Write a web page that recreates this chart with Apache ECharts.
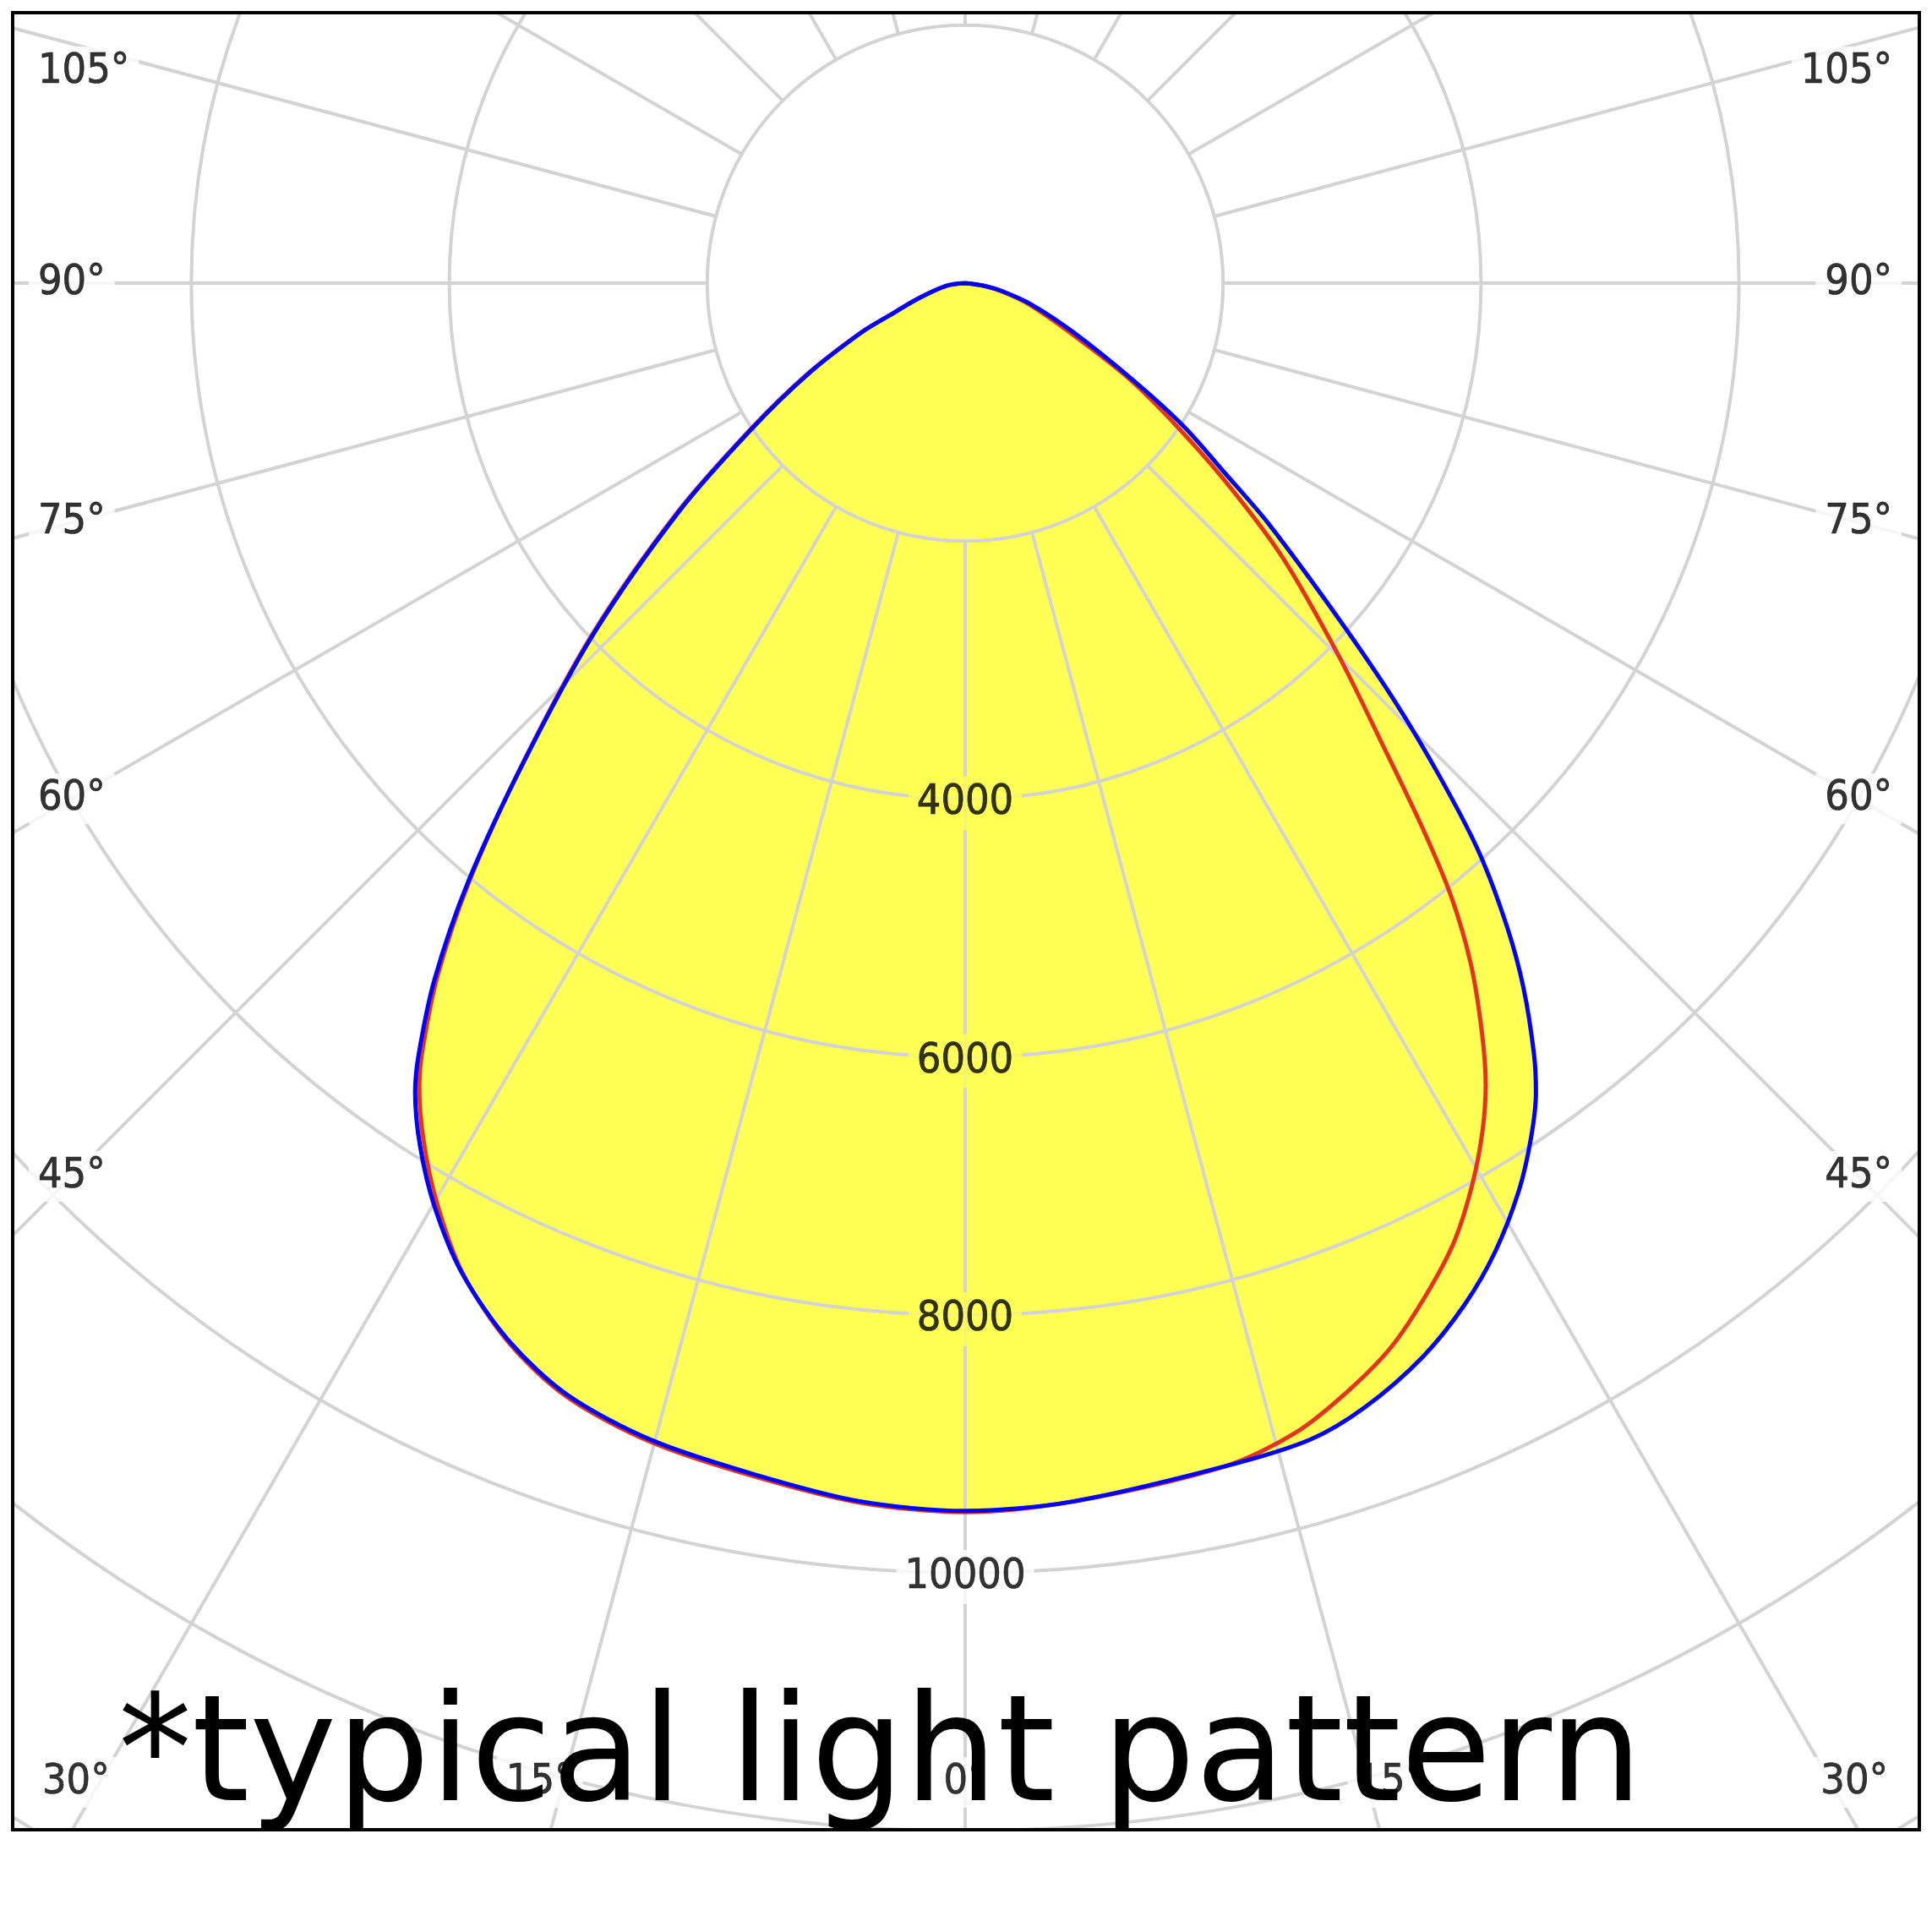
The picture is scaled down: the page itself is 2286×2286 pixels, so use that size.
<!DOCTYPE html>
<html><head><meta charset="utf-8">
<script src="https://cdn.jsdelivr.net/npm/echarts@6/dist/echarts.min.js"></script>
<style>
html,body{margin:0;padding:0;background:#fff;width:2286px;height:2286px;overflow:hidden}
#frame{position:absolute;left:13px;top:13px;width:2260px;height:2154px;border:4px solid #000;box-sizing:border-box;background:#fff}
#chart{width:2252px;height:2146px}
</style></head><body>
<div id="frame"><div id="chart"></div></div>
<script>
// gamma angle (deg from nadir) and luminous intensity (cd) read along each half-curve
const redLeftAngles   = [0, 5, 10.1, 15.2, 19.7, 23.3, 26.9, 29.9, 32.3, 34.2, 35.3, 37.3, 39.7, 42.7, 46.7, 51.4, 55.7, 60, 64.6, 66.9, 71.9, 82, 90];
const redLeftValues   = [9530, 9490, 9395, 9310, 9170, 8945, 8610, 8220, 7860, 7530, 7280, 6750, 6010, 5050, 3975, 2865, 2020, 1420, 900, 645, 385, 148, 0];
const redRightAngles  = [0, 5, 12.4, 16.1, 19.2, 21.9, 24.7, 27.1, 29.4, 31.4, 33.0, 34.6, 36.6, 38.4, 40.0, 42.1, 45.1, 49.2, 52.7, 56.4, 60, 65, 72, 77.5, 82, 90];
const redRightValues  = [9520, 9485, 9393, 9271, 9080, 8880, 8600, 8335, 8014, 7700, 7411, 7056, 6577, 6066, 5520, 4834, 4084, 3246, 2537, 1915, 1440, 880, 510, 290, 145, 0];
const blueLeftAngles  = [0, 5, 10.1, 15.2, 19.7, 23.3, 26.9, 29.9, 32.3, 34.2, 35.3, 37.3, 39.7, 42.7, 46.7, 51.4, 55.7, 60, 64.6, 66.9, 71.9, 82, 90];
const blueLeftValues  = [9520, 9480, 9379, 9294, 9155, 8934, 8615, 8256, 7911, 7587, 7334, 6791, 6033, 5041, 3949, 2840, 2000, 1400, 886, 634, 379, 145, 0];
const blueRightAngles = [0, 5, 12.4, 16.6, 19.6, 23.1, 26.1, 28.7, 31.4, 33.5, 35.2, 36.4, 38.4, 40.1, 42.1, 43.9, 45.8, 48.1, 51.6, 53.8, 56.8, 60, 65.6, 72.2, 77.5, 82, 90];
const blueRightValues = [9520, 9485, 9393, 9358, 9250, 9049, 8813, 8560, 8242, 7949, 7678, 7434, 6969, 6523, 5939, 5303, 4642, 3883, 3000, 2502, 2020, 1500, 921, 537, 302, 150, 0];
// axis ticks / labels
const radiusTicks = [4000, 6000, 8000, 10000];
const angleTicks  = [0, 15, 30, 45, 60, 75, 90, 105];
const titleText = '*typical light pattern';

const YELLOW = '#ffff55', GRID = '#d3d3d3';
const LABEL_FONT = "'DejaVu Sans Condensed', 'DejaVu Sans', sans-serif";
const W = 2252, H = 2146;
const CX = 1125, CY = 318;          // polar centre in chart px
const R_MAX = 16000;
const PX_PER = 0.1526;              // px per cd
const R_OUT = R_MAX * PX_PER;

function loop(la, lv, ra, rv) {
  const d = [];
  for (let i = la.length - 1; i >= 0; i--) d.push([lv[i], la[i]]);
  for (let i = 0; i < ra.length; i++) if (ra[i] > 0) d.push([rv[i], 360 - ra[i]]);
  return d;
}
const redLoop  = loop(redLeftAngles, redLeftValues, redRightAngles, redRightValues);
const blueLoop = loop(blueLeftAngles, blueLeftValues, blueRightAngles, blueRightValues);

function toPolar(x, y) {
  const dx = x - CX, dy = y - CY;
  let a = Math.atan2(-dx, dy) * 180 / Math.PI;
  if (a < 0) a += 360;
  return [Math.hypot(dx, dy) / PX_PER, a];
}

// angle tick labels placed along each ray near the frame
const angleLabelData = [];
const PADH = 11;
angleTicks.forEach(t => {
  const sides = t === 0 ? [0] : [-1, 1];
  sides.forEach(s => {
    const rad = t * Math.PI / 180;
    let x, y, align;
    if (t >= 45) {
      y = CY + 1057 * Math.cos(rad) / Math.sin(rad);
      y = Math.max(y, 68);
      if (s < 0) { x = 28 - PADH; align = 'left'; } else { x = 2222 + PADH; align = 'right'; }
    } else {
      y = 2092;
      x = CX + s * ((y - CY) * Math.tan(rad) + 28);
      align = 'center';
    }
    angleLabelData.push({ value: toPolar(x, y), name: t + '°', label: { align: align } });
  });
});

const bottomValue = Math.max(redLeftValues[0], blueLeftValues[0]);
const radiusLabelData = radiusTicks.map(v => ({
  value: [v, 0], name: String(v),
  label: { backgroundColor: v < bottomValue ? YELLOW : '#fff' }
}));

const SMOOTH = 0.3;
const labelText = { fontFamily: LABEL_FONT, fontSize: 50, color: '#000', textBorderColor: '#000', textBorderWidth: 0.7 };
const option = {
  animation: false,
  backgroundColor: '#fff',
  title: {
    text: titleText, left: 118, top: 1976, z: 20,
    textStyle: { fontFamily: "'DejaVu Sans', sans-serif", fontSize: 174, fontWeight: 'normal', color: '#000' }
  },
  polar: [
    { center: [CX, CY], radius: [2000 * PX_PER, R_OUT] },
    { center: [CX, CY], radius: [0, R_OUT] }
  ],
  angleAxis: [
    { polarIndex: 0, type: 'value', min: 0, max: 360, interval: 15, startAngle: 270, clockwise: true, z: 5,
      axisLine: { show: false }, axisTick: { show: false }, axisLabel: { show: false },
      splitLine: { show: true, lineStyle: { color: GRID, width: 4 } } },
    { polarIndex: 1, type: 'value', min: 0, max: 360, startAngle: 270, clockwise: true, show: false }
  ],
  radiusAxis: [
    { polarIndex: 0, type: 'value', min: 2000, max: R_MAX, interval: 2000, z: 5,
      axisLine: { show: false }, axisTick: { show: false }, axisLabel: { show: false },
      splitLine: { show: true, lineStyle: { color: GRID, width: 4 } } },
    { polarIndex: 1, type: 'value', min: 0, max: R_MAX, show: false }
  ],
  series: [
    { type: 'line', coordinateSystem: 'polar', polarIndex: 1, data: redLoop, smooth: SMOOTH,
      symbol: 'none', lineStyle: { width: 0 }, areaStyle: { color: YELLOW, opacity: 1 }, z: 1, silent: true },
    { type: 'line', coordinateSystem: 'polar', polarIndex: 1, data: blueLoop, smooth: SMOOTH,
      symbol: 'none', lineStyle: { width: 0 }, areaStyle: { color: YELLOW, opacity: 1 }, z: 1, silent: true },
    { type: 'line', coordinateSystem: 'polar', polarIndex: 1, data: redLoop, smooth: SMOOTH,
      symbol: 'none', lineStyle: { color: '#e4341f', width: 5 }, z: 10 },
    { type: 'line', coordinateSystem: 'polar', polarIndex: 1, data: blueLoop, smooth: SMOOTH,
      symbol: 'none', lineStyle: { color: '#0000ff', width: 5 }, z: 11 },
    { type: 'scatter', coordinateSystem: 'polar', polarIndex: 1, data: radiusLabelData, symbolSize: 1,
      itemStyle: { color: 'rgba(0,0,0,0)' }, z: 12, silent: true,
      label: Object.assign({ show: true, position: 'inside', formatter: p => p.name, offset: [0, 5],
        padding: [7, 10], verticalAlign: 'middle', align: 'center' }, labelText) },
    { type: 'scatter', coordinateSystem: 'polar', polarIndex: 1, data: angleLabelData, symbolSize: 1,
      itemStyle: { color: 'rgba(0,0,0,0)' }, z: 12, silent: true,
      label: Object.assign({ show: true, position: 'inside', formatter: p => p.name, backgroundColor: '#fff',
        padding: [5, PADH], verticalAlign: 'middle' }, labelText) }
  ]
};
const chart = echarts.init(document.getElementById('chart'), null, { renderer: 'canvas', width: W, height: H });
chart.setOption(option);
</script>
</body></html>
